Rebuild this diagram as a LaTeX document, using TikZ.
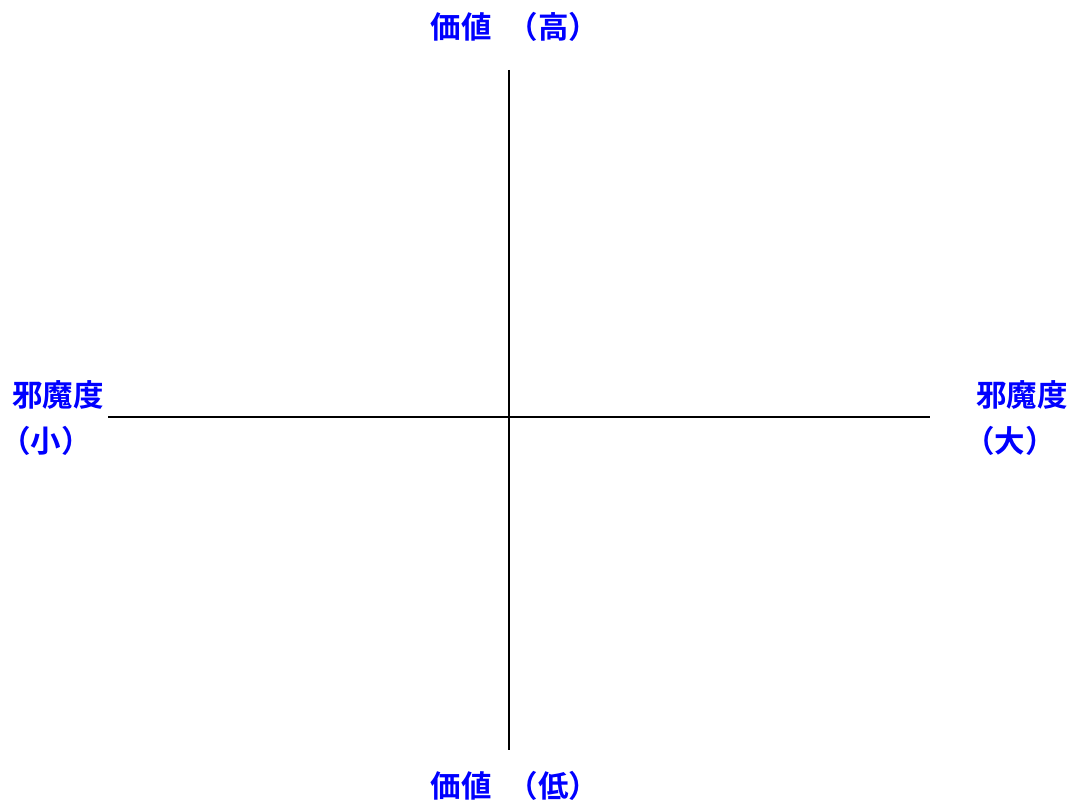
\documentclass[tikz,border=0pt]{standalone}
\usepackage{fontspec}
\newfontfamily\cjk{Noto Sans CJK JP}[BoldFont={Noto Sans CJK JP Bold}]
\begin{document}
\begin{tikzpicture}[x=1pt,y=-1pt,
  lbl/.style={text=blue,font=\cjk\bfseries\fontsize{30.5}{36}\selectfont,inner sep=0pt,anchor=center},
  axis/.style={line width=1.6pt,black}]
\useasboundingbox (0,0) rectangle (1079,805);
\coordinate (top) at (509,70);
\coordinate (bot) at (509,750);
\coordinate (lft) at (108,417);
\coordinate (rgt) at (930,417);
\draw[axis] (top) -- (bot);
\draw[axis] (lft) -- (rgt);
\node[lbl] (vhigh) at (515,27) {価値\hspace{16pt}（高）};
\node[lbl] (vlow) at (515,786) {価値\hspace{16pt}（低）};
\node[lbl] (lname) at (58,395) {邪魔度};
\node[lbl] (lsmall) at (46,441) {（小）};
\node[lbl] (rname) at (1022,395) {邪魔度};
\node[lbl] (rbig) at (1010,441) {（大）};
\end{tikzpicture}
\end{document}
